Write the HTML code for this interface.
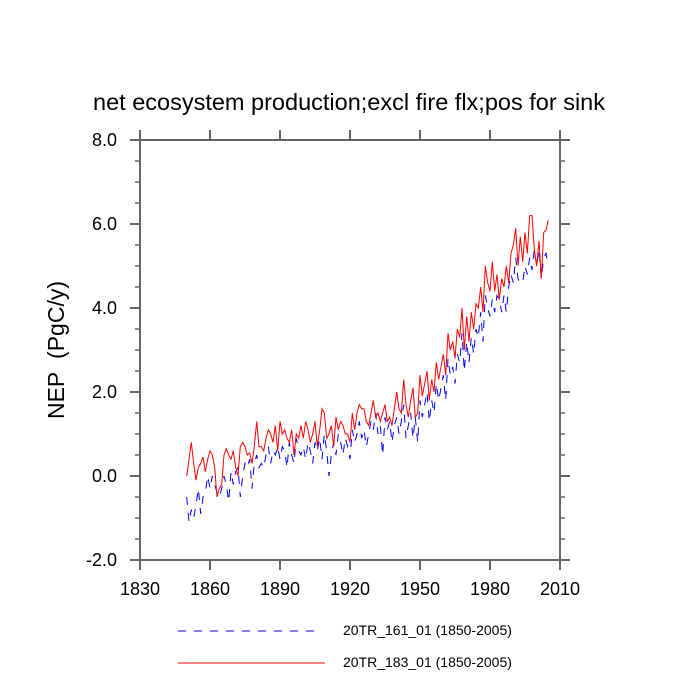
<!DOCTYPE html>
<html><head><meta charset="utf-8"><style>
body{margin:0;background:#fff}
svg{display:block;font-family:"Liberation Sans",sans-serif}
</style></head><body>
<svg id="chart" width="700" height="700">
<text x="349" y="110" font-size="23.5" text-anchor="middle">net ecosystem production;excl fire flx;pos for sink</text>
<text transform="translate(64,350) rotate(-90)" font-size="23" text-anchor="middle">NEP&#160;&#160;(PgC/y)</text>
<g id="axes"></g>
<g id="series"></g>
<g>
<line x1="178" y1="631" x2="318" y2="631" stroke="#00f" stroke-width="1" stroke-dasharray="8,8"/>
<text x="343" y="635" font-size="14">20TR_161_01 (1850-2005)</text>
<line x1="178" y1="663" x2="325" y2="663" stroke="#f00" stroke-width="1"/>
<text x="343" y="667" font-size="14">20TR_183_01 (1850-2005)</text>
</g>
</svg>
<script>
const startYear = 1850;
const red183 = [0.0,0.4,0.8,0.3,-0.1,0.2,0.3,0.45,0.1,0.4,
0.6,0.5,0.2,-0.5,-0.3,-0.2,0.5,0.65,0.5,0.4,
0.6,0.2,0.0,0.7,0.8,0.7,0.5,0.55,0.3,0.7,
1.3,0.7,0.7,0.6,0.9,1.1,1.0,0.8,1.2,0.6,
1.3,1.0,1.1,0.9,0.8,1.1,0.5,1.0,0.9,1.2,
0.9,1.3,1.1,0.8,1.0,1.3,0.7,1.1,1.6,1.5,
0.9,1.0,1.2,0.7,1.4,1.1,1.3,1.2,1.0,1.0,
0.8,1.5,1.1,1.5,1.7,1.6,1.6,1.3,1.2,1.5,
1.8,1.4,1.5,1.3,1.5,1.7,1.3,1.4,1.2,1.6,
2.0,1.6,1.5,2.3,1.7,1.4,1.8,2.1,1.4,1.5,
2.4,1.9,2.2,2.5,1.8,2.3,2.0,2.7,2.3,2.6,
2.9,2.4,3.4,3.0,3.2,2.8,3.5,3.3,4.0,3.0,
3.8,3.2,3.9,3.5,4.1,4.0,4.5,3.9,5.0,4.6,
4.4,5.1,4.4,4.8,4.2,4.7,4.5,5.0,4.6,5.3,
5.5,5.9,5.0,5.7,5.1,5.8,5.3,6.2,6.2,5.4,
5.0,5.6,4.7,5.8,5.85,6.1];
const blue161 = [-0.5,-1.1,-0.8,-1.0,-0.7,-0.3,-0.9,-0.5,-0.4,0.0,
-0.3,0.0,-0.2,-0.4,-0.5,-0.3,0.0,-0.2,-0.6,0.1,
-0.2,0.1,0.2,-0.5,0.0,0.3,0.2,0.4,-0.3,0.3,
0.5,0.2,0.3,0.2,0.5,0.7,0.3,0.6,0.5,0.7,
0.4,0.7,0.6,0.2,0.8,0.5,0.3,0.9,0.6,0.5,
0.7,0.4,0.8,0.6,0.3,0.8,0.6,0.9,0.4,1.0,
0.6,0.0,0.5,0.8,0.5,1.0,0.8,0.5,0.9,0.7,
0.4,1.1,0.8,1.0,1.3,0.9,1.1,0.7,1.0,1.3,
1.1,1.5,1.0,1.2,0.5,1.4,1.1,1.3,0.8,1.2,
1.4,1.0,1.3,1.7,0.9,1.2,1.5,0.9,1.4,0.8,
1.8,1.4,1.7,2.0,1.3,1.8,1.5,2.2,1.8,2.1,
2.4,1.8,2.8,2.4,2.6,2.2,2.9,2.7,3.4,2.5,
3.2,2.7,3.3,2.9,3.5,3.3,3.9,3.2,4.3,4.0,
3.8,4.2,3.9,4.3,4.2,3.9,4.3,3.9,4.5,4.8,
4.6,5.2,4.7,4.6,4.6,5.0,4.8,5.2,4.9,5.4,
5.0,5.4,4.7,5.2,5.3,5.0];
const xTicks = [1830,1860,1890,1920,1950,1980,2010];
const yTicks = [-2,0,2,4,6,8];
const yTickLabels = ["-2.0","0.0","2.0","4.0","6.0","8.0"];

const L=140,R=560,T=140,B=560;
const xs = v => L + (v-1830)/(2010-1830)*(R-L);
const ys = v => B - (v+2)/10*(B-T);
const NS="http://www.w3.org/2000/svg";
function mk(tag,attrs,parent){const e=document.createElementNS(NS,tag);for(const k in attrs)e.setAttribute(k,attrs[k]);parent.appendChild(e);return e;}
const axes=document.getElementById('axes'), ser=document.getElementById('series');
const ac="#666";
const frame=mk('rect',{x:L,y:T,width:R-L,height:B-T,fill:'none',stroke:ac,'stroke-width':2},axes);


xTicks.forEach(t=>{const x=xs(t);
 const ln=mk('line',{x1:x,y1:B,x2:x,y2:B+10,stroke:ac,'stroke-width':2},axes);
 
 
 const ln2=mk('line',{x1:x,y1:T,x2:x,y2:T-10,stroke:ac,'stroke-width':2},axes);
 
 
 const tx=mk('text',{x:x,y:B+35,'font-size':18,'text-anchor':'middle'},axes);tx.textContent=t;
 
 
});
for(let v=-2;v<=8.001;v+=0.5){const y=ys(v);const major=Math.abs(v/2-Math.round(v/2))<1e-6;const len=major?10:5;
 const a=mk('line',{x1:L,y1:y,x2:L-len,y2:y,stroke:ac,'stroke-width':major?2:1.5},axes);
 
 
 const b=mk('line',{x1:R,y1:y,x2:R+len,y2:y,stroke:ac,'stroke-width':major?2:1.5},axes);
 
 
}
yTicks.forEach((t,i)=>{const tx=mk('text',{x:L-23,y:ys(t)+6,'font-size':18,'text-anchor':'end'},axes);tx.textContent=yTickLabels[i];
 
 
});
function pts(arr){return arr.map((v,i)=>xs(startYear+i).toFixed(1)+','+ys(v).toFixed(1)).join(' ');}
const pb=mk('polyline',{points:pts(blue161),fill:'none',stroke:'#00f','stroke-width':1,'stroke-dasharray':'8,8'},ser);


const pr=mk('polyline',{points:pts(red183),fill:'none',stroke:'#f00','stroke-width':1},ser);


</script>
</body></html>
